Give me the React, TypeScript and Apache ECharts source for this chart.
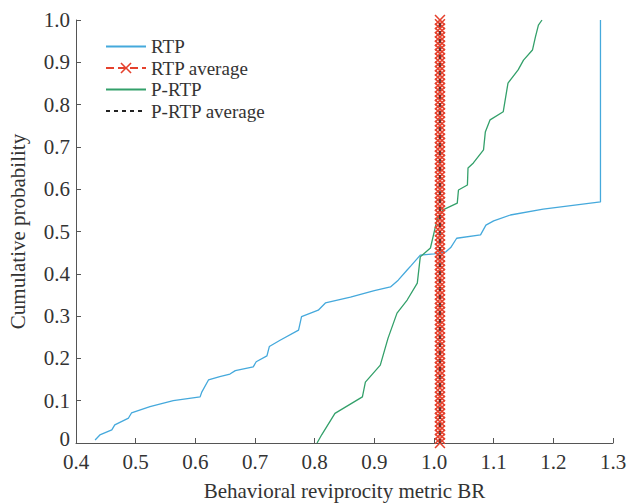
import React, { useEffect, useRef } from "react";
import * as echarts from "echarts";

const xTicks = [0.4, 0.5, 0.6, 0.7, 0.8, 0.9, 1.0, 1.1, 1.2, 1.3];
const yTicks = [0, 0.1, 0.2, 0.3, 0.4, 0.5, 0.6, 0.7, 0.8, 0.9, 1.0];

const rtp: [number, number][] = [
  [0.432, 0.007], [0.44, 0.019], [0.46, 0.031], [0.465, 0.043], [0.488, 0.059], [0.493, 0.071],
  [0.524, 0.086], [0.563, 0.1], [0.608, 0.109], [0.611, 0.121], [0.622, 0.149], [0.641, 0.157],
  [0.658, 0.163], [0.667, 0.171], [0.697, 0.18], [0.702, 0.192], [0.72, 0.206], [0.724, 0.228],
  [0.742, 0.243], [0.773, 0.267], [0.778, 0.299], [0.806, 0.314], [0.818, 0.331], [0.86, 0.345],
  [0.9, 0.36], [0.927, 0.369], [0.94, 0.385], [0.955, 0.409], [0.962, 0.42], [0.977, 0.444],
  [1.0, 0.447], [1.02, 0.452], [1.028, 0.462], [1.038, 0.484], [1.078, 0.492], [1.087, 0.515],
  [1.1, 0.525], [1.128, 0.539], [1.183, 0.553], [1.279, 0.57], [1.279, 1.0],
];

const prtp: [number, number][] = [
  [0.804, 0], [0.812, 0.02], [0.834, 0.07], [0.88, 0.109], [0.885, 0.144], [0.91, 0.184],
  [0.923, 0.248], [0.938, 0.307], [0.955, 0.338], [0.972, 0.378], [0.977, 0.44], [0.994, 0.461],
  [1.005, 0.527], [1.015, 0.551], [1.039, 0.567], [1.041, 0.598], [1.056, 0.61], [1.057, 0.65],
  [1.066, 0.662], [1.083, 0.693], [1.086, 0.735], [1.094, 0.764], [1.116, 0.783], [1.124, 0.851],
  [1.141, 0.882], [1.15, 0.905], [1.165, 0.929], [1.17, 0.96], [1.175, 0.988], [1.181, 1.0],
];

const rtpAverage = 1.01;
const prtpAverage = 1.01;
const averageMarkerY = [
  0, 0.01, 0.02, 0.03, 0.04, 0.05, 0.06, 0.07, 0.08, 0.09,
  0.1, 0.11, 0.12, 0.13, 0.14, 0.15, 0.16, 0.17, 0.18, 0.19,
  0.2, 0.21, 0.22, 0.23, 0.24, 0.25, 0.26, 0.27, 0.28, 0.29,
  0.3, 0.31, 0.32, 0.33, 0.34, 0.35, 0.36, 0.37, 0.38, 0.39,
  0.4, 0.41, 0.42, 0.43, 0.44, 0.45, 0.46, 0.47, 0.48, 0.49,
  0.5, 0.51, 0.52, 0.53, 0.54, 0.55, 0.56, 0.57, 0.58, 0.59,
  0.6, 0.61, 0.62, 0.63, 0.64, 0.65, 0.66, 0.67, 0.68, 0.69,
  0.7, 0.71, 0.72, 0.73, 0.74, 0.75, 0.76, 0.77, 0.78, 0.79,
  0.8, 0.81, 0.82, 0.83, 0.84, 0.85, 0.86, 0.87, 0.88, 0.89,
  0.9, 0.91, 0.92, 0.93, 0.94, 0.95, 0.96, 0.97, 0.98, 0.99, 1.0,
];
const averageLineY = [0, 1];

const FONT = "'Liberation Serif', 'Times New Roman', serif";
const CROSS = "path://M0,1L1,0L5,4L9,0L10,1L6,5L10,9L9,10L5,6L1,10L0,9L4,5Z";

export default function App() {
  const ref = useRef<HTMLDivElement>(null);
  useEffect(() => {
    if (!ref.current) return;
    const chart = echarts.init(ref.current, null, { renderer: "svg" });
    const axisColor = "#555";
    const hidden = { opacity: 0 };
    chart.setOption({
      animation: false,
      backgroundColor: "#fff",
      grid: { left: 76, top: 20, right: 17, bottom: 60, containLabel: false, outerBoundsMode: "none" },
      legend: {
        orient: "vertical",
        left: 100,
        top: 32,
        itemWidth: 40,
        itemHeight: 14,
        itemGap: 2.5,
        textStyle: { fontFamily: FONT, fontSize: 19, color: "#333" },
        data: [
          { name: "RTP", itemStyle: hidden },
          { name: "RTP average" },
          { name: "P-RTP", itemStyle: hidden },
          { name: "P-RTP average", itemStyle: hidden },
        ],
      },
      xAxis: {
        type: "value",
        min: xTicks[0],
        max: xTicks[xTicks.length - 1],
        interval: 0.1,
        name: "Behavioral reviprocity metric BR",
        nameLocation: "middle",
        nameGap: 37,
        nameTextStyle: { fontFamily: FONT, fontSize: 21, color: "#333" },
        axisLine: { lineStyle: { color: axisColor, width: 1 } },
        axisTick: { inside: true, length: 5, lineStyle: { color: axisColor } },
        axisLabel: {
          fontFamily: FONT, fontSize: 21, color: "#333", margin: 8,
          formatter: (v: number) => v.toFixed(1),
        },
        splitLine: { show: false },
      },
      yAxis: {
        type: "value",
        min: yTicks[0],
        max: yTicks[yTicks.length - 1],
        interval: 0.1,
        name: "Cumulative probability",
        nameLocation: "middle",
        nameGap: 48,
        nameTextStyle: { fontFamily: FONT, fontSize: 21, color: "#333" },
        axisLine: { show: true, lineStyle: { color: axisColor, width: 1 } },
        axisTick: { show: true, inside: true, length: 5, lineStyle: { color: axisColor } },
        axisLabel: {
          fontFamily: FONT, fontSize: 21, lineHeight: 12, color: "#333", margin: 6,
          formatter: (v: number) => (Math.abs(v) < 1e-9 ? "{z|0}" : v.toFixed(1)),
          rich: {
            z: { fontFamily: FONT, fontSize: 21, lineHeight: 12, color: "#333", padding: [0, 0, 8, 0] },
          },
        },
        splitLine: { show: false },
      },
      series: [
        {
          name: "RTP",
          type: "line",
          data: rtp,
          showSymbol: false,
          symbol: "none",
          lineStyle: { color: "#45a9dc", width: 1.3 },
          itemStyle: { color: "#45a9dc" },
          z: 3,
        },
        {
          name: "RTP average",
          type: "line",
          data: averageMarkerY.map((y) => [rtpAverage, y]),
          symbol: CROSS,
          symbolSize: 11,
          showAllSymbol: true,
          lineStyle: { color: "#e5412d", width: 1, type: "dashed" },
          itemStyle: { color: "#e5412d" },
          z: 4,
        },
        {
          name: "P-RTP",
          type: "line",
          data: prtp,
          showSymbol: false,
          symbol: "none",
          lineStyle: { color: "#33a06a", width: 1.3 },
          itemStyle: { color: "#33a06a" },
          z: 3,
        },
        {
          name: "P-RTP average",
          type: "line",
          data: averageLineY.map((y) => [prtpAverage, y]),
          showSymbol: false,
          symbol: "none",
          lineStyle: { color: "#222", width: 1.2, type: [4, 4] },
          itemStyle: { color: "#222" },
          z: 5,
        },
      ],
    });
    return () => chart.dispose();
  }, []);
  return (
    <div
      ref={ref}
      style={{ position: "absolute", left: 0, top: 0, width: 630, height: 503 }}
    />
  );
}
